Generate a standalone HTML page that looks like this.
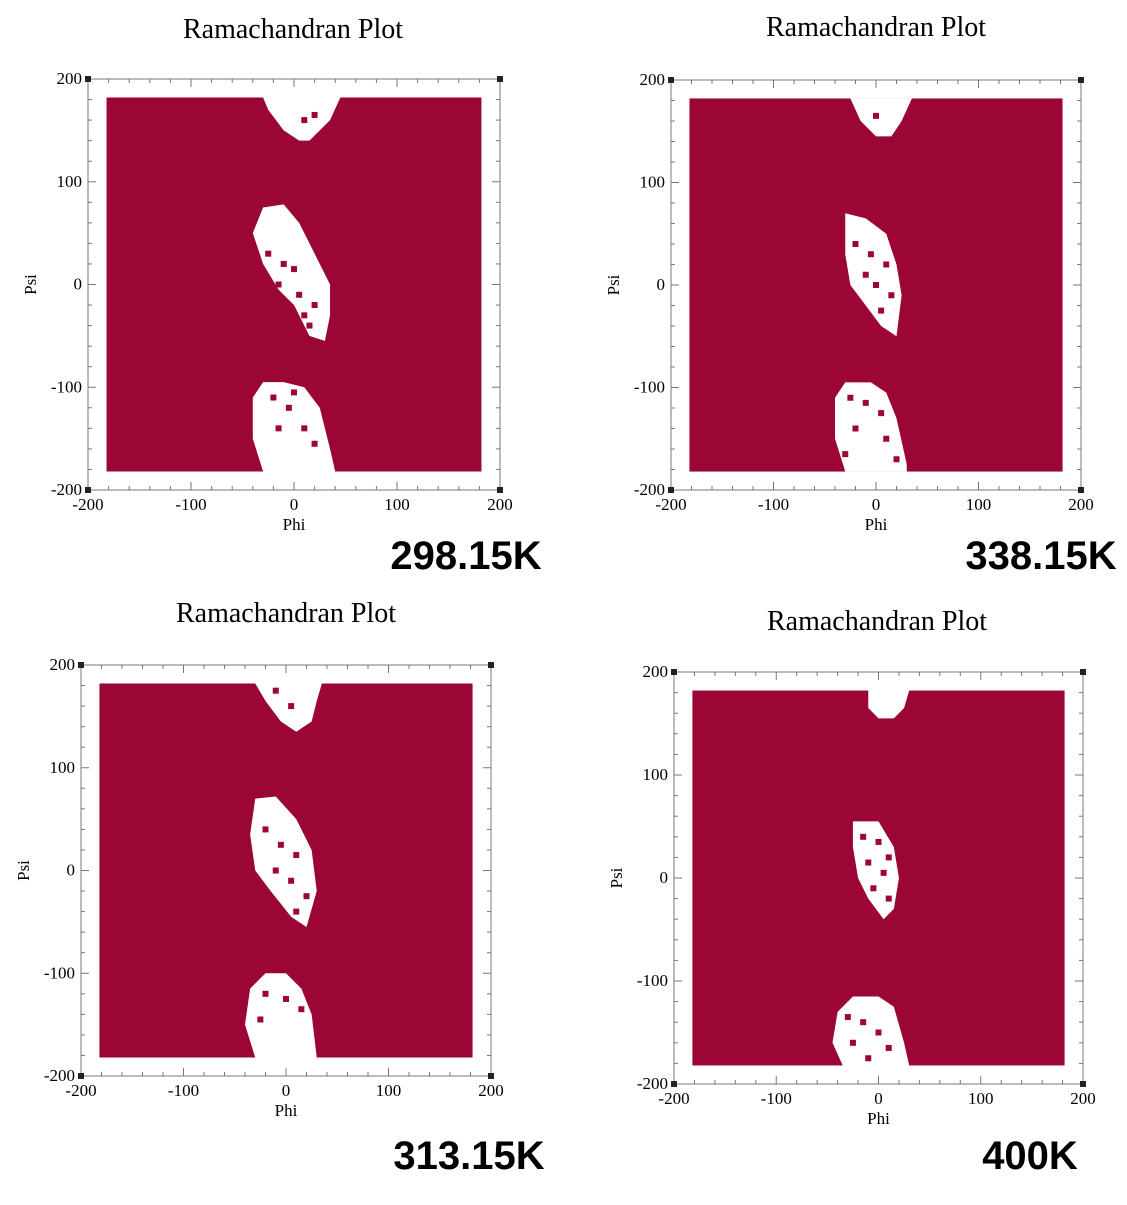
<!DOCTYPE html>
<html><head><meta charset="utf-8"><style>
body{margin:0;background:#fff;width:1127px;height:1200px;overflow:hidden}
svg text{font-family:"Liberation Serif",serif}
</style></head><body>
<svg id="c" width="1127" height="1200" xmlns="http://www.w3.org/2000/svg"></svg>
<script>
const ticks=[-200,-100,0,100,200];
const fillBounds=[-182,182];
const p1Blobs=[
 [[-30,182],[45,182],[35,160],[25,150],[15,140],[5,140],[-10,150],[-25,170]],
 [[-30,75],[-10,78],[5,60],[20,30],[35,0],[35,-30],[30,-55],[15,-50],[0,-20],[-15,-5],[-30,20],[-40,50]],
 [[-40,-110],[-30,-95],[-10,-95],[10,-100],[25,-120],[35,-160],[40,-182],[-30,-182],[-40,-150]]];
const p1Dots=[[-25,30],[-10,20],[0,15],[-15,0],[5,-10],[10,-30],[20,-20],[15,-40],[-5,-25],[-20,-110],[-5,-120],[10,-140],[-15,-140],[20,-155],[0,-105],[10,160],[20,165]];
const p2Blobs=[
 [[-25,182],[35,182],[25,160],[15,145],[0,145],[-15,160]],
 [[-30,70],[-10,65],[10,50],[20,20],[25,-10],[20,-50],[5,-40],[-10,-20],[-25,0],[-30,30]],
 [[-40,-110],[-30,-95],[-5,-95],[10,-105],[20,-130],[30,-175],[30,-182],[-30,-182],[-40,-150]]];
const p2Dots=[[-20,40],[-5,30],[10,20],[-10,10],[0,0],[15,-10],[5,-25],[-25,-110],[-10,-115],[5,-125],[-20,-140],[10,-150],[-30,-165],[20,-170],[0,165]];
const p3Blobs=[
 [[-30,182],[35,182],[30,165],[25,145],[10,135],[-5,145],[-20,165]],
 [[-30,70],[-10,72],[10,50],[25,20],[30,-20],[20,-55],[5,-45],[-15,-20],[-30,0],[-35,35]],
 [[-35,-115],[-20,-100],[0,-100],[15,-115],[25,-140],[30,-182],[-30,-182],[-40,-150]]];
const p3Dots=[[-20,40],[-5,25],[10,15],[-10,0],[5,-10],[20,-25],[10,-40],[-20,-120],[0,-125],[15,-135],[-25,-145],[-10,175],[5,160]];
const p4Blobs=[
 [[-10,182],[30,182],[25,165],[15,155],[0,155],[-10,165]],
 [[-25,55],[0,55],[15,30],[20,0],[15,-30],[5,-40],[-10,-20],[-20,0],[-25,30]],
 [[-40,-130],[-25,-115],[0,-115],[15,-125],[25,-160],[30,-182],[-35,-182],[-45,-160]]];
const p4Dots=[[-15,40],[0,35],[10,20],[-10,15],[5,5],[-5,-10],[10,-20],[-30,-135],[-15,-140],[0,-150],[-25,-160],[10,-165],[-10,-175]];
const panels=[
 {x0:88,y0:79,x1:500,y1:490,title:"Ramachandran Plot",tx:293,ty:38,temp:"298.15K",kx:466,ky:569,blobs:p1Blobs,dots:p1Dots},
 {x0:671,y0:80,x1:1081,y1:490,title:"Ramachandran Plot",tx:876,ty:36,temp:"338.15K",kx:1041,ky:569,blobs:p2Blobs,dots:p2Dots},
 {x0:81,y0:665,x1:491,y1:1076,title:"Ramachandran Plot",tx:286,ty:622,temp:"313.15K",kx:469,ky:1169,blobs:p3Blobs,dots:p3Dots},
 {x0:674,y0:672,x1:1083,y1:1084,title:"Ramachandran Plot",tx:877,ty:630,temp:"400K",kx:1030,ky:1169,blobs:p4Blobs,dots:p4Dots}];
const svg=document.getElementById('c');const NS="http://www.w3.org/2000/svg";
function mk(t,a,p){const e=document.createElementNS(NS,t);for(const k in a)e.setAttribute(k,a[k]);(p||svg).appendChild(e);return e;}
panels.forEach((P,i)=>{
 const g=mk('g',{});
 
 
 const sx=v=>P.x0+(v+200)/400*(P.x1-P.x0);
 const sy=v=>P.y1-(v+200)/400*(P.y1-P.y0);
 const r=mk('rect',{x:sx(fillBounds[0]),y:sy(fillBounds[1]),width:sx(fillBounds[1])-sx(fillBounds[0]),height:sy(fillBounds[0])-sy(fillBounds[1]),fill:'#9c0634'},g);
 
 
 P.blobs.forEach((b,j)=>{
  const pg=mk('polygon',{points:b.map(p=>sx(p[0])+','+sy(p[1])).join(' '),fill:'#fff'},g);
  
  
 });
 P.dots.forEach(d=>{
  const q=mk('rect',{x:sx(d[0])-3,y:sy(d[1])-3,width:6,height:6,fill:'#9c0634'},g);
  
  
 });
 const ax=mk('rect',{x:P.x0,y:P.y0,width:P.x1-P.x0,height:P.y1-P.y0,fill:'none',stroke:'#777','stroke-width':1},g);
 
 
 for(let v=-200;v<=200;v+=20){const L=v%100===0?8:4;
  mk('line',{x1:sx(v),x2:sx(v),y1:P.y1,y2:P.y1-L,stroke:'#777'},g);
  mk('line',{x1:sx(v),x2:sx(v),y1:P.y0,y2:P.y0+L,stroke:'#777'},g);
  mk('line',{x1:P.x0,x2:P.x0+L,y1:sy(v),y2:sy(v),stroke:'#777'},g);
  mk('line',{x1:P.x1,x2:P.x1-L,y1:sy(v),y2:sy(v),stroke:'#777'},g);}
 [[P.x0,P.y0],[P.x1,P.y0],[P.x0,P.y1],[P.x1,P.y1]].forEach(c=>mk('rect',{x:c[0]-3,y:c[1]-3,width:6,height:6,fill:'#222'},g));
 ticks.forEach(v=>{
  const t=mk('text',{x:sx(v),y:P.y1+20,'text-anchor':'middle','font-size':17},g);t.textContent=v;
  
  const u=mk('text',{x:P.x0-6,y:sy(v)+5,'text-anchor':'end','font-size':17},g);u.textContent=v;
  
 });
 const xl=mk('text',{x:(P.x0+P.x1)/2,y:P.y1+40,'text-anchor':'middle','font-size':17},g);xl.textContent='Phi';
 
 const yl=mk('text',{x:0,y:0,'text-anchor':'middle','font-size':17,transform:`translate(${P.x0-52},${sy(0)}) rotate(-90)`},g);yl.textContent='Psi';
 
 const ti=mk('text',{x:P.tx,y:P.ty,'text-anchor':'middle','font-size':28},g);ti.textContent=P.title;
 
 const k=mk('text',{x:P.kx,y:P.ky,'text-anchor':'middle','font-size':40,'font-weight':'bold',style:'font-family:"Liberation Sans",sans-serif'},g);k.textContent=P.temp;
 
});
</script>
</body></html>
